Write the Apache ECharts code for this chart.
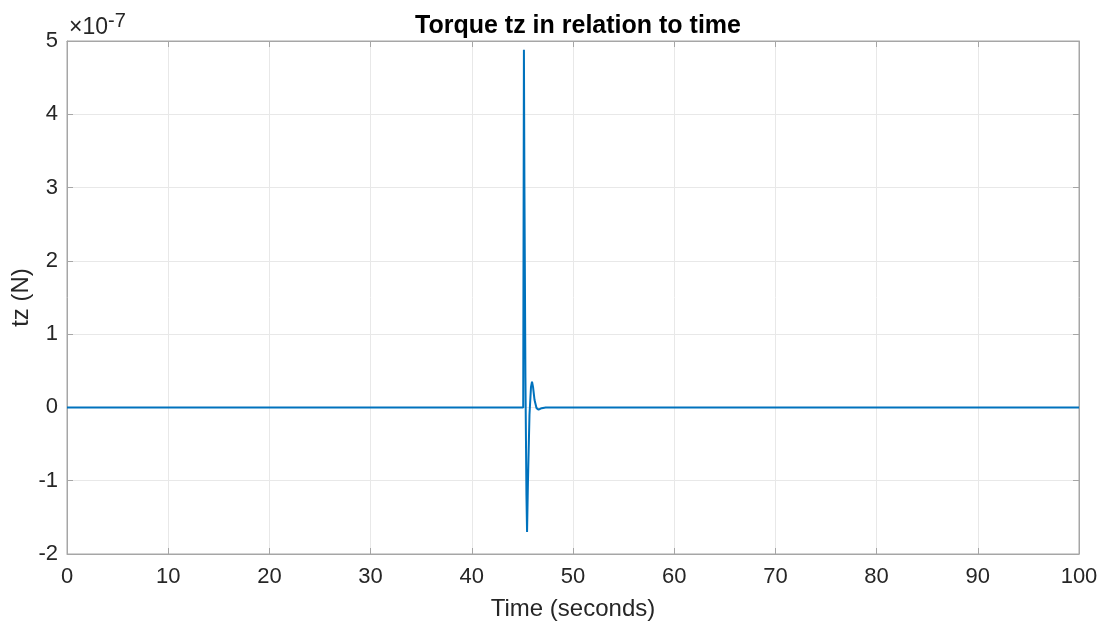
<!DOCTYPE html>
<html>
<head>
<meta charset="utf-8">
<script src="https://cdn.jsdelivr.net/npm/echarts@6/dist/echarts.min.js"></script>
<style>html,body{margin:0;padding:0;background:#fff}#c{width:1106px;height:624px}</style>
</head>
<body>
<div id="c"></div>
<script>
// Torque response: flat, a sharp impulse near t = 45 s, then a damped ringing back to zero
const times  = [0, 45.08, 45.15, 45.2, 45.3, 45.4, 45.46, 45.55, 45.7, 45.85, 45.95, 46.05, 46.2, 46.4, 46.6, 46.9, 47.3, 100];
const torque = [0, 0, 4.88e-7, 3.0e-7, 0.4e-7, -1.2e-7, -1.70e-7, -1.0e-7, -0.1e-7, 0.28e-7, 0.35e-7, 0.28e-7, 0.10e-7, -0.01e-7, -0.03e-7, -0.01e-7, 0, 0];
const xTicks = [0, 10, 20, 30, 40, 50, 60, 70, 80, 90, 100];
const yTicks = [-2, -1, 0, 1, 2, 3, 4, 5];
const yScale = 1e-7;

const font = 'Liberation Sans, Arial, Helvetica, sans-serif';
const axisGrey = '#a6a6a6';
const textCol = '#262626';

const chart = echarts.init(document.getElementById('c'));
const tickCommon = { show: true, inside: true, length: 6, lineStyle: { color: axisGrey } };
const lineCommon = { show: true, onZero: false, lineStyle: { color: axisGrey } };

chart.setOption({
  animation: false,
  title: {
    text: 'Torque tz in relation to time',
    left: 573, top: 9, textAlign: 'center',
    textStyle: { fontFamily: font, fontSize: 25, fontWeight: 'bold', color: '#000' }
  },
  grid: { left: 67, right: 27, top: 41, bottom: 70, show: true, borderColor: axisGrey, borderWidth: 1,
    containLabel: false, outerBoundsMode: 'none' },
  xAxis: [{
    type: 'value', min: 0, max: 100, interval: 10,
    name: 'Time (seconds)', nameLocation: 'middle', nameGap: 43,
    nameTextStyle: { fontFamily: font, fontSize: 24, color: textCol },
    axisLine: lineCommon,
    axisTick: tickCommon,
    axisLabel: { fontFamily: font, fontSize: 22, color: textCol, margin: 12,
      formatter: v => xTicks.includes(v) ? String(v) : '' },
    splitLine: { show: true, lineStyle: { color: '#e8e8e8' } }
  }, {
    type: 'value', min: 0, max: 100, interval: 10, position: 'top',
    axisLine: lineCommon,
    axisTick: tickCommon, axisLabel: { show: false }, splitLine: { show: false }
  }],
  yAxis: [{
    type: 'value', min: -2 * yScale, max: 5 * yScale, interval: yScale,
    name: 'tz (N)', nameLocation: 'middle', nameGap: 34, nameRotate: 90, nameMoveOverlap: false,
    nameTextStyle: { fontFamily: font, fontSize: 24, color: textCol },
    axisLine: lineCommon,
    axisTick: tickCommon,
    axisLabel: { fontFamily: font, fontSize: 22, color: textCol, margin: 9,
      formatter: v => {
        const n = Math.round(v / yScale);
        return yTicks.includes(n) ? String(n) : '';
      } },
    splitLine: { show: true, lineStyle: { color: '#e8e8e8' } }
  }, {
    type: 'value', min: -2 * yScale, max: 5 * yScale, interval: yScale, position: 'right',
    axisLine: lineCommon,
    axisTick: tickCommon, axisLabel: { show: false }, splitLine: { show: false }
  }],
  graphic: [{
    type: 'text',
    style: { x: 69, y: 28, text: '×10', verticalAlign: 'middle',
      fontFamily: font, fontSize: 23, fill: textCol }
  }, {
    type: 'text',
    style: { x: 108, y: 21, text: '-7', verticalAlign: 'middle',
      fontFamily: font, fontSize: 20, fill: textCol }
  }],
  series: [{
    type: 'line',
    data: times.map((t, i) => [t, torque[i]]),
    showSymbol: false,
    lineStyle: { color: '#0072BD', width: 2 },
    itemStyle: { color: '#0072BD' }
  }]
});
</script>
</body>
</html>
